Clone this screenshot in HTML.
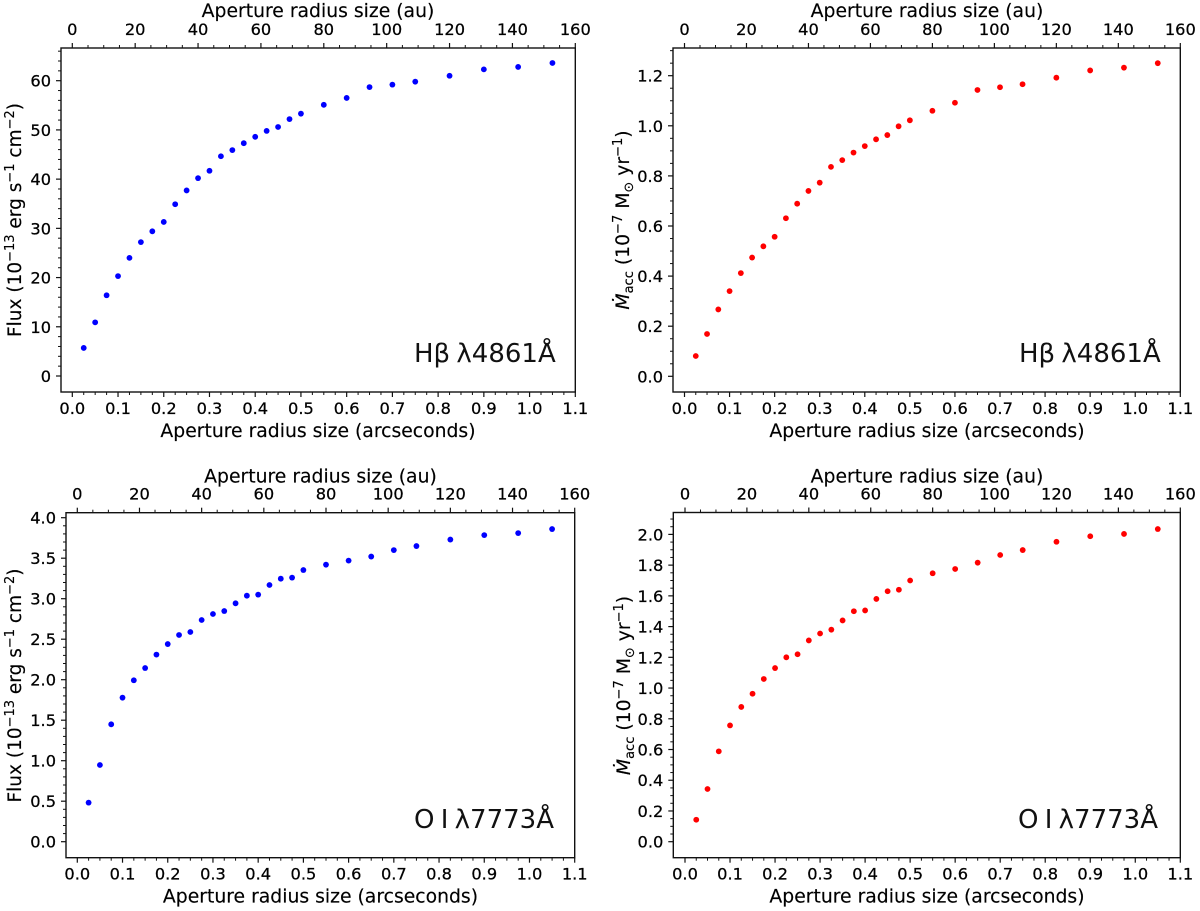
<!DOCTYPE html>
<html lang="en">
<head>
<meta charset="utf-8">
<title>Aperture radius curves</title>
<style>
  html, body { margin: 0; padding: 0; background: #fff; }
  svg { display: block; filter: blur(0.3px); }
  text { font-family: "DejaVu Sans", "Liberation Sans", sans-serif; fill: #000; }
  .axis-title { font-size: 18.8px; text-anchor: middle; stroke: #000; stroke-width: 0.15px; }
  .flux-title { font-size: 18.5px; }
  .tick-label { font-size: 16.2px; stroke: #000; stroke-width: 0.25px; }
  .note { font-size: 26px; word-spacing: -2px; fill: #111; }
</style>
</head>
<body>
<svg id="fig" width="1200" height="911" viewBox="0 0 1200 911" xmlns="http://www.w3.org/2000/svg">
  <rect width="1200" height="911" fill="#fff"/>

  <text class="axis-title" x="318" y="17">Aperture radius size (au)</text>
  <text class="axis-title" x="318" y="437">Aperture radius size (arcseconds)</text>
  <text class="axis-title flux-title" transform="translate(21 220) rotate(-90)">Flux (10<tspan font-size="13" dy="-7">−13</tspan><tspan dy="7"> erg s</tspan><tspan font-size="13" dy="-7">−1</tspan><tspan dy="7"> cm</tspan><tspan font-size="13" dy="-7">−2</tspan><tspan dy="7">)</tspan></text>
  <text class="note" x="414" y="362">Hβ λ4861Å</text>

  <text class="axis-title" x="927" y="17">Aperture radius size (au)</text>
  <text class="axis-title" x="927" y="437">Aperture radius size (arcseconds)</text>
  <text class="axis-title" transform="translate(629 220) rotate(-90)"><tspan font-style="italic">Ṁ</tspan><tspan font-size="13" dy="4">acc</tspan><tspan dy="-4"> (10</tspan><tspan font-size="13" dy="-7">−7</tspan><tspan dy="7"> M</tspan><tspan font-size="13" dy="4">⊙</tspan><tspan dy="-4"> yr</tspan><tspan font-size="13" dy="-7">−1</tspan><tspan dy="7">)</tspan></text>
  <text class="note" x="1019" y="362">Hβ λ4861Å</text>

  <text class="axis-title" x="320.5" y="482.5">Aperture radius size (au)</text>
  <text class="axis-title" x="320.5" y="902.5">Aperture radius size (arcseconds)</text>
  <text class="axis-title flux-title" transform="translate(21 685.5) rotate(-90)">Flux (10<tspan font-size="13" dy="-7">−13</tspan><tspan dy="7"> erg s</tspan><tspan font-size="13" dy="-7">−1</tspan><tspan dy="7"> cm</tspan><tspan font-size="13" dy="-7">−2</tspan><tspan dy="7">)</tspan></text>
  <text class="note" x="414" y="828">O I λ7773Å</text>

  <text class="axis-title" x="927" y="482.5">Aperture radius size (au)</text>
  <text class="axis-title" x="927" y="902.5">Aperture radius size (arcseconds)</text>
  <text class="axis-title" transform="translate(630 685.5) rotate(-90)"><tspan font-style="italic">Ṁ</tspan><tspan font-size="13" dy="4">acc</tspan><tspan dy="-4"> (10</tspan><tspan font-size="13" dy="-7">−7</tspan><tspan dy="7"> M</tspan><tspan font-size="13" dy="4">⊙</tspan><tspan dy="-4"> yr</tspan><tspan font-size="13" dy="-7">−1</tspan><tspan dy="7">)</tspan></text>
  <text class="note" x="1018" y="828">O I λ7773Å</text>
</svg>

<script>
// Shared aperture radii (arcseconds)
const apertureArcsec = [0.025,0.05,0.075,0.1,0.125,0.15,0.175,0.2,0.225,0.25,0.275,0.3,0.325,0.35,0.375,0.4,0.425,0.45,0.475,0.5,0.55,0.6,0.65,0.7,0.75,0.825,0.9,0.975,1.05];

// Series values
const fluxHbeta = [5.7,10.9,16.4,20.3,24.0,27.2,29.4,31.3,34.9,37.7,40.2,41.7,44.65,45.9,47.3,48.6,49.8,50.6,52.2,53.3,55.1,56.5,58.7,59.2,59.8,61.0,62.3,62.8,63.6];
const mdotHbeta = [0.081,0.169,0.267,0.34,0.412,0.474,0.519,0.557,0.631,0.689,0.74,0.773,0.836,0.863,0.893,0.919,0.946,0.963,0.998,1.022,1.06,1.092,1.143,1.154,1.166,1.192,1.221,1.232,1.25];
const fluxOI = [0.482,0.947,1.449,1.778,1.993,2.144,2.31,2.44,2.552,2.589,2.737,2.811,2.848,2.943,3.037,3.05,3.169,3.247,3.26,3.354,3.42,3.47,3.52,3.60,3.65,3.73,3.785,3.81,3.86];
const mdotOI = [0.143,0.343,0.588,0.757,0.877,0.963,1.059,1.13,1.20,1.22,1.31,1.355,1.38,1.44,1.50,1.505,1.58,1.63,1.64,1.70,1.747,1.775,1.816,1.866,1.898,1.952,1.988,2.003,2.035];

// Tick labels
const arcsecTicks = ["0.0","0.1","0.2","0.3","0.4","0.5","0.6","0.7","0.8","0.9","1.0","1.1"];
const auTicks = ["0","20","40","60","80","100","120","140","160"];
const fluxHbetaTicks = ["0","10","20","30","40","50","60"];
const mdotHbetaTicks = ["0.0","0.2","0.4","0.6","0.8","1.0","1.2"];
const fluxOITicks = ["0.0","0.5","1.0","1.5","2.0","2.5","3.0","3.5","4.0"];
const mdotOITicks = ["0.0","0.2","0.4","0.6","0.8","1.0","1.2","1.4","1.6","1.8","2.0"];

const panels = [
  { id:"hbeta-flux", values:fluxHbeta, yTicks:fluxHbetaTicks, color:"#0000ff", minorPerMajor:5,
    box:{l:61,r:575.3,t:48,b:392}, x0:72.3, y0:376, yRef:60, yRefPx:80.7 },
  { id:"hbeta-mdot", values:mdotHbeta, yTicks:mdotHbetaTicks, color:"#ff0000", minorPerMajor:4,
    box:{l:673,r:1180.3,t:48,b:392}, x0:684.5, y0:376.3, yRef:1.2, yRefPx:75.7 },
  { id:"oi-flux", values:fluxOI, yTicks:fluxOITicks, color:"#0000ff", minorPerMajor:5,
    box:{l:66,r:574.7,t:512.7,b:857.7}, x0:77.3, y0:841.7, yRef:4, yRefPx:517.7 },
  { id:"oi-mdot", values:mdotOI, yTicks:mdotOITicks, color:"#ff0000", minorPerMajor:4,
    box:{l:673.3,r:1180.3,t:512.5,b:857.7}, x0:685, y0:841.7, yRef:2, yRefPx:534.4 }
];

const NS = "http://www.w3.org/2000/svg";
const fig = document.getElementById("fig");
const AXIS_COLOR = "#111";

function addLine(parent, x1, y1, x2, y2, width) {
  const el = document.createElementNS(NS, "line");
  el.setAttribute("x1", x1);
  el.setAttribute("y1", y1);
  el.setAttribute("x2", x2);
  el.setAttribute("y2", y2);
  el.setAttribute("stroke", AXIS_COLOR);
  el.setAttribute("stroke-width", width);
  parent.appendChild(el);
  return el;
}

function addLabel(parent, x, y, anchor, str) {
  const el = document.createElementNS(NS, "text");
  el.setAttribute("class", "tick-label");
  el.setAttribute("x", x);
  el.setAttribute("y", y);
  el.setAttribute("text-anchor", anchor);
  el.textContent = str;
  parent.appendChild(el);
  return el;
}

panels.forEach(function (p) {
  const b = p.box;
  const xMax = 1.1, auMax = 160;
  const xScale = function (v) { return p.x0 + (b.r - p.x0) * v / xMax; };
  const auScale = function (v) { return p.x0 + (b.r - p.x0) * v / auMax; };
  const yScale = function (v) { return p.y0 + (p.yRefPx - p.y0) * v / p.yRef; };

  const g = document.createElementNS(NS, "g");
  
  
  fig.appendChild(g);

  // Bottom axis
  const bottomAxis = document.createElementNS(NS, "g");
  
  
  g.appendChild(bottomAxis);
  arcsecTicks.forEach(function (t, i) {
    const v = Number(t);
    const px = xScale(v);
    addLine(bottomAxis, px, b.b, px, b.b + 5, 1.2);
    const lab = addLabel(bottomAxis, px, b.b + 22, "middle", t);
    
    
    if (i < arcsecTicks.length - 1) {
      for (let k = 1; k < 4; k++) {
        const m = xScale(v + 0.025 * k);
        addLine(bottomAxis, m, b.b, m, b.b + 3, 1);
      }
    }
  });

  // Top axis
  const topAxis = document.createElementNS(NS, "g");
  
  
  g.appendChild(topAxis);
  auTicks.forEach(function (t, i) {
    const v = Number(t);
    const px = auScale(v);
    addLine(topAxis, px, b.t, px, b.t - 5, 1.2);
    const lab = addLabel(topAxis, px, b.t - 13, "middle", t);
    
    
    if (i < auTicks.length - 1) {
      for (let k = 1; k < 4; k++) {
        const m = auScale(v + 5 * k);
        addLine(topAxis, m, b.t, m, b.t - 3, 1);
      }
    }
  });

  // Left axis
  const leftAxis = document.createElementNS(NS, "g");
  
  
  g.appendChild(leftAxis);
  const step = Number(p.yTicks[1]) - Number(p.yTicks[0]);
  p.yTicks.forEach(function (t) {
    const v = Number(t);
    const py = yScale(v);
    addLine(leftAxis, b.l, py, b.l - 5, py, 1.2);
    const lab = addLabel(leftAxis, b.l - 10, py + 6, "end", t);
    
    
    for (let k = 1; k < p.minorPerMajor; k++) {
      const m = yScale(v + step * k / p.minorPerMajor);
      if (m > b.t) addLine(leftAxis, b.l, m, b.l - 3, m, 1);
    }
  });

  // Data points
  const series = document.createElementNS(NS, "g");
  
  
  g.appendChild(series);
  p.values.forEach(function (v, i) {
    const c = document.createElementNS(NS, "circle");
    
    
    c.setAttribute("cx", xScale(apertureArcsec[i]));
    c.setAttribute("cy", yScale(v));
    c.setAttribute("r", 2.9);
    c.setAttribute("fill", p.color);
    series.appendChild(c);
  });

  // Frame
  const frame = document.createElementNS(NS, "rect");
  
  
  frame.setAttribute("x", b.l);
  frame.setAttribute("y", b.t);
  frame.setAttribute("width", b.r - b.l);
  frame.setAttribute("height", b.b - b.t);
  frame.setAttribute("fill", "none");
  frame.setAttribute("stroke", AXIS_COLOR);
  frame.setAttribute("stroke-width", 1.4);
  g.appendChild(frame);
});
</script>
</body>
</html>
